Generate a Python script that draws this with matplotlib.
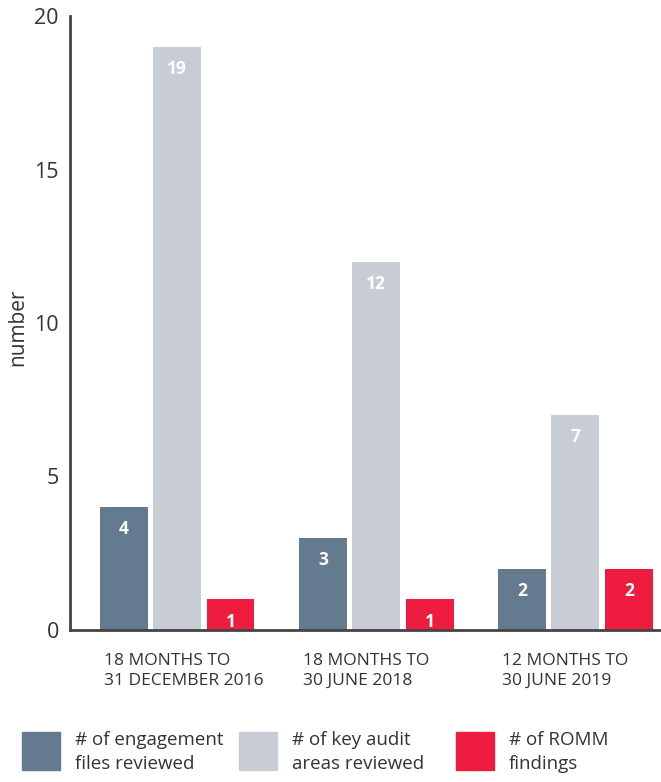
import numpy as np
import matplotlib.pyplot as plt
from matplotlib.patches import Rectangle

plt.rcParams['font.family'] = ['Open Sans', 'DejaVu Sans']

periods = ['18 MONTHS TO\n31 DECEMBER 2016', '18 MONTHS TO\n30 JUNE 2018', '12 MONTHS TO\n30 JUNE 2019']
series_names = ['# of engagement\nfiles reviewed', '# of key audit\nareas reviewed', '# of ROMM\nfindings']
engagement_files = [4, 3, 2]
key_audit_areas = [19, 12, 7]
romm_findings = [1, 1, 2]
colors = ['#637a8f', '#c8ccd5', '#ee1c3e']
text_col = '#333333'

fig = plt.figure(figsize=(6.61, 7.82), dpi=100)
W, H = 661, 782
ax = fig.add_axes([70 / W, 1 - 630 / H, 1 - 70 / W, (630 - 16) / H])

x = np.arange(len(periods))
width = 0.24
step = 0.268
for i, vals in enumerate([engagement_files, key_audit_areas, romm_findings]):
    bars = ax.bar(x + (i - 1) * step, vals, width, color=colors[i], zorder=2)
    for b, v in zip(bars, vals):
        ax.annotate(str(v), (b.get_x() + b.get_width() / 2, v), xytext=(0, -16),
                    textcoords='offset points', ha='center', va='center',
                    color='white', fontsize=12.5, fontweight='bold')

ax.set_xlim(-0.538, 2.43)
ax.set_ylim(0, 20)
ax.set_yticks([0, 5, 10, 15, 20])
ax.tick_params(axis='y', length=0, labelsize=15.5, labelcolor=text_col, pad=8)
ax.set_xticks([])
for s in ['top', 'right']:
    ax.spines[s].set_visible(False)
for s in ['left', 'bottom']:
    ax.spines[s].set_color('#444444')
    ax.spines[s].set_linewidth(2)

fig.text(18 / W, 1 - 327 / H, 'number', rotation=90, ha='center', va='center',
         fontsize=15, color=text_col)

# category labels, left-aligned under each group
for xi, lab in zip(x, periods):
    ax.text(xi - step - width / 2 + 0.02, -0.75, lab, ha='left', va='top',
            fontsize=12.5, color=text_col, linespacing=1.35)

# legend, drawn by hand
leg_x = [22, 239, 456]
for lx, c, name in zip(leg_x, colors, series_names):
    fig.add_artist(Rectangle((lx / W, 1 - 770 / H), 38 / W, 38 / H,
                             transform=fig.transFigure, color=c))
    fig.text((lx + 53) / W, 1 - 731 / H, name, ha='left', va='top',
             fontsize=13.5, color=text_col, linespacing=1.4)

fig.savefig('out.png', dpi=100)
